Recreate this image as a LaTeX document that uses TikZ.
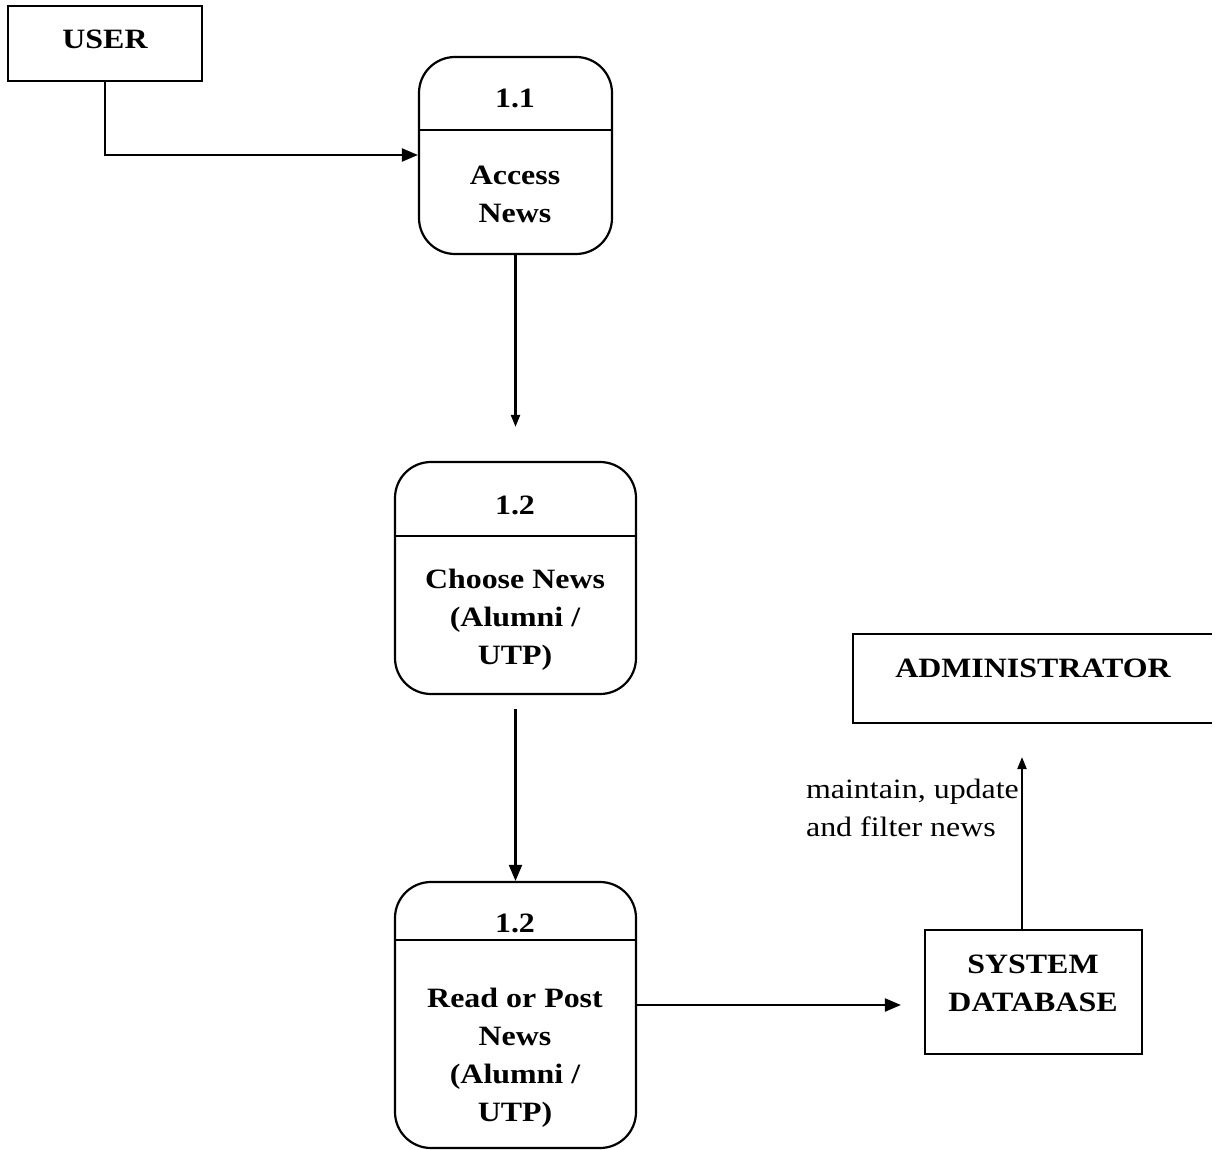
\documentclass[tikz,border=0pt]{standalone}
\usepackage{fontspec}
\setmainfont{Liberation Serif}[FakeStretch=1.14]
\usetikzlibrary{arrows.meta}
\begin{document}
\begin{tikzpicture}[x=1pt,y=-1pt,line width=2.2pt,
  box/.style={draw,rectangle,inner sep=0pt},
  proc/.style={draw,rectangle,rounded corners=36pt,inner sep=0pt},
  lbl/.style={font=\fontsize{28}{38}\selectfont\bfseries,align=center,inner sep=0pt},
  note/.style={font=\fontsize{28}{38}\selectfont,align=left,inner sep=0pt,anchor=west},
  flow/.style={-{Triangle[length=16pt,width=13pt]}},
  flowsmall/.style={-{Triangle[length=12pt,width=9pt]}}]
\useasboundingbox (0,0) rectangle (1220,1150);

% external entities and stores
\node[box,minimum width=194pt,minimum height=75pt] (user) at (105,43.5) {};
\node[box,minimum width=217pt,minimum height=124pt] (db) at (1033.5,992) {};
\coordinate (admsw) at (853,723);
\coordinate (admnw) at (853,634);
\draw (1212,634) -- (admnw) -- (admsw) -- (1212,723);

% processes
\node[proc,minimum width=193pt,minimum height=197pt] (p1) at (515.5,155.5) {};
\node[proc,minimum width=241pt,minimum height=232pt] (p2) at (515.5,578) {};
\node[proc,minimum width=241pt,minimum height=266pt] (p3) at (515.5,1015) {};
\draw (p1.west |- 0,130) -- (p1.east |- 0,130);
\draw (p2.west |- 0,536) -- (p2.east |- 0,536);
\draw (p3.west |- 0,940) -- (p3.east |- 0,940);

% texts
\node[lbl] (tuser) at (105,39) {USER};
\node[lbl] (t1a) at (515,98) {1.1};
\node[lbl] (t1b) at (515,194) {Access\\News};
\node[lbl] (t2a) at (515,505) {1.2};
\node[lbl] (t2b) at (515,620) {Choose News\\(Alumni /\\UTP)};
\node[lbl] (t3a) at (515,923) {1.2};
\node[lbl] (t3b) at (515,1058) {Read or Post\\News\\(Alumni /\\UTP)};
\node[lbl] (tadm) at (1033,668) {ADMINISTRATOR};
\node[lbl] (tdb) at (1033,983) {SYSTEM\\DATABASE};
\node[note] (tflow) at (805,808) {maintain, update\\and filter news};

% data flows
\draw[flow] (user.south) |- (p1.west |- 0,155);
\draw[flowsmall,shorten >=34pt] (p1.south) -- (p2.north);
\draw[flow,shorten <=14pt] (p2.south) -- (p3.north);
\draw[flow,shorten >=23pt] (p3.east |- 0,1005) -- (db.west |- 0,1005);
\draw[flowsmall,shorten >=34pt] (db.north -| 1022,0) -- (admsw -| 1022,0);
\end{tikzpicture}
\end{document}
